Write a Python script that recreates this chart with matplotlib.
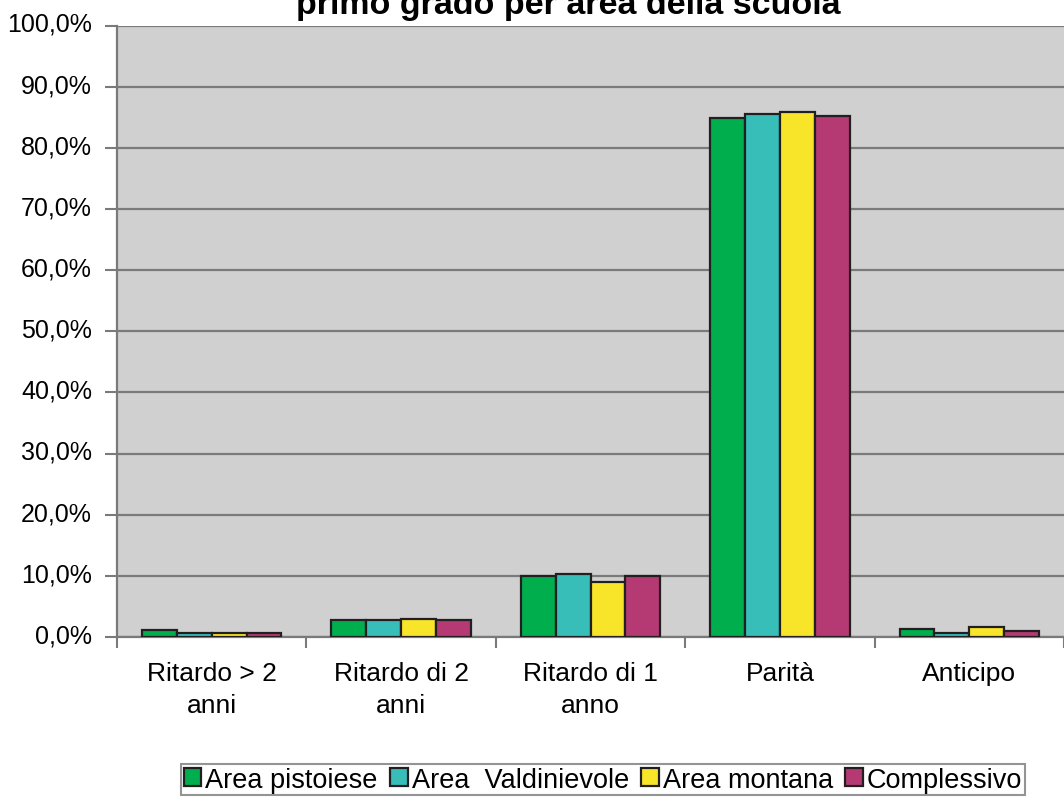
import matplotlib
matplotlib.use("Agg")
import matplotlib.pyplot as plt
from matplotlib.ticker import FuncFormatter, MultipleLocator
from matplotlib.transforms import ScaledTranslation
import numpy as np

plt.rcParams['font.family'] = ['Liberation Sans', 'DejaVu Sans']

# dati (percentuali)
categorie = ["Ritardo > 2\nanni", "Ritardo di 2\nanni", "Ritardo di 1\nanno", "Parità", "Anticipo"]
area_pistoiese = [1.1, 2.7, 10.0, 84.9, 1.3]
area_valdinievole = [0.7, 2.7, 10.3, 85.6, 0.7]
area_montana = [0.7, 2.9, 9.0, 85.9, 1.6]
complessivo = [0.7, 2.7, 10.0, 85.2, 1.0]

serie = ["Area pistoiese", "Area  Valdinievole", "Area montana", "Complessivo"]
colori = ["#00AE4D", "#37BEB9", "#F8E52A", "#B53A74"]
valori = [area_pistoiese, area_valdinievole, area_montana, complessivo]

fig = plt.figure(figsize=(10.64, 8.03), dpi=100)
ax = fig.add_axes([0.110, 0.2055, 0.890, 0.7613])
ax.set_facecolor("#D0D0D0")

x = np.arange(len(categorie))
w = 0.184
for i, (nome, col, v) in enumerate(zip(serie, colori, valori)):
    ax.bar(x + (i - 1.5) * w, v, width=w, color=col, edgecolor="#231F20",
           linewidth=1.6, label=nome, zorder=3)

ax.set_ylim(0, 100)
ax.set_xlim(-0.5, len(categorie) - 0.5)
ax.yaxis.set_major_locator(MultipleLocator(10))
ax.yaxis.set_major_formatter(FuncFormatter(lambda v, p: f"{v:.1f}%".replace(".", ",")))
ax.grid(axis="y", color="#7A7A7A", linewidth=1.6, zorder=1)

# tick tra le categorie, etichette al centro
ax.set_xticks(np.arange(-0.5, len(categorie), 1.0))
ax.set_xticklabels([])
ax.set_xticks(x, minor=True)
ax.set_xticklabels(categorie, minor=True, fontsize=19, linespacing=1.45)
ax.tick_params(axis="x", which="minor", length=0, pad=17)
ax.tick_params(axis="x", which="major", length=8, width=1.5, color="#7A7A7A")
ax.tick_params(axis="y", length=9, width=1.5, color="#7A7A7A", labelsize=18, pad=9)

# etichette y leggermente sopra la linea, come in Excel
off = ScaledTranslation(0, 3 / 72, fig.dpi_scale_trans)
for lab in ax.get_yticklabels():
    lab.set_transform(lab.get_transform() + off)

for s in ["top", "right"]:
    ax.spines[s].set_visible(False)
for s in ["left", "bottom"]:
    ax.spines[s].set_color("#7A7A7A")
    ax.spines[s].set_linewidth(1.6)

# titolo tagliato in alto come nell'originale
fig.text(0.534, 1 - 14 / 803, "primo grado per area della scuola", ha="center",
         va="baseline", fontsize=24.5, fontweight="bold")

leg = fig.legend(loc="upper left", bbox_to_anchor=(181 / 1064, 1 - 765 / 803), ncol=4,
                 fontsize=19.5, frameon=True, fancybox=False, edgecolor="#7A7A7A",
                 handlelength=0.65, handleheight=0.65, handletextpad=0.15,
                 columnspacing=0.45, borderpad=0.1, borderaxespad=0)
leg.get_frame().set_linewidth(1.5)

fig.savefig("out.png", dpi=100)
